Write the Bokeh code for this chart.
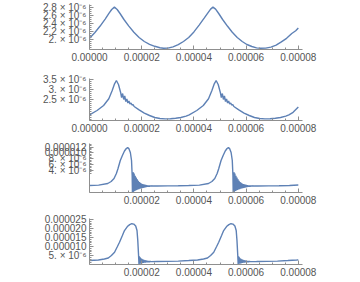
from bokeh.plotting import figure
from bokeh.layouts import column
from bokeh.models import FixedTicker, Range1d
from bokeh.embed import file_html
from bokeh.resources import INLINE

# time in microseconds (x 1e-6 s), values in units of 1e-6

# ---- panel 1 ----
t1 = [0, 2, 4, 6, 7.5, 8.5, 9.55, 10.6, 11.7, 13.2, 15, 17, 19, 21, 23, 25, 27, 28.4,
      30, 32, 34, 36, 38, 40, 42, 44, 45.5, 46.4, 47.3, 48.3, 49.5, 51, 52.9, 54.7,
      56.6, 58.5, 60.3, 62.2, 64, 65.6, 67.5, 69.5, 71.5, 73.5, 75.5, 77.5, 79, 80]
v1 = [2.03, 2.17, 2.33, 2.51, 2.66, 2.75, 2.81, 2.75, 2.65, 2.50, 2.34, 2.18, 2.05, 1.95, 1.88, 1.83, 1.795, 1.78,
      1.785, 1.815, 1.87, 1.95, 2.05, 2.19, 2.36, 2.54, 2.68, 2.76, 2.81, 2.76, 2.65, 2.50, 2.33, 2.18,
      2.05, 1.95, 1.875, 1.825, 1.79, 1.78, 1.785, 1.81, 1.86, 1.94, 2.03, 2.15, 2.22, 2.29]

# ---- panel 2 ----
t2 = [0, 2.9, 5.4, 7.4, 8.7, 9.6, 10.3, 11.1, 11.9, 12.3, 12.7, 13.1, 13.5, 13.9, 14.3, 14.7,
      15.1, 15.5, 15.9, 16.3, 16.7, 17.1, 19, 21, 23, 25, 27, 29, 31, 33, 35, 37, 38.2,
      41.1, 43.6, 45.6, 46.9, 47.8, 48.5, 49.3, 50.1, 50.5, 50.9, 51.3, 51.7, 52.1, 52.5, 52.9,
      53.3, 53.7, 54.1, 54.5, 54.9, 55.3, 57.2, 59.2, 61.2, 63.2, 65.2, 67.2, 69.2, 71.2, 73.2,
      75.2, 76.4, 78, 80]
v2 = [1.735, 1.95, 2.2, 2.535, 2.95, 3.285, 3.45, 3.25, 2.865, 2.6, 2.8, 2.5, 2.675, 2.4, 2.525, 2.325,
      2.425, 2.275, 2.325, 2.225, 2.24, 2.15, 1.98, 1.82, 1.7, 1.6, 1.55, 1.53, 1.535, 1.56, 1.6, 1.67, 1.735,
      1.95, 2.2, 2.535, 2.95, 3.285, 3.45, 3.25, 2.865, 2.6, 2.8, 2.5, 2.675, 2.4, 2.525, 2.325,
      2.425, 2.275, 2.325, 2.225, 2.24, 2.15, 1.98, 1.82, 1.7, 1.6, 1.55, 1.53, 1.535, 1.56, 1.6,
      1.67, 1.735, 1.86, 2.12]

# ---- panel 3 ----
t3 = [0, 3.5, 7, 8.3, 9.4, 10.3, 10.9, 11.8, 12.6, 13.4, 14.1, 14.6, 15.1, 15.65, 16.1, 16.35, 16.45, 16.7,
      16.8, 16.9, 17.1, 17.3, 17.5, 17.7, 17.9, 18.1, 18.3, 18.5, 18.7, 18.9, 19.1, 19.3, 19.5, 19.7, 19.9,
      20.1, 20.3, 20.5, 20.7, 20.9, 21.1, 21.3, 21.5, 21.7, 21.9, 22.1, 22.3, 22.5, 22.7, 22.9, 23.1, 23.3,
      23.5, 23.7, 23.9, 24.1, 24.3, 24.5, 26, 30, 34, 38,
      42.1, 45.6, 46.9, 48, 48.9, 49.5, 50.4, 51.2, 52, 52.7, 53.2, 53.7, 54.25, 54.7, 54.95, 55.05, 55.3,
      55.4, 55.5, 55.7, 55.9, 56.1, 56.3, 56.5, 56.7, 56.9, 57.1, 57.3, 57.5, 57.7, 57.9, 58.1, 58.3, 58.5,
      58.7, 58.9, 59.1, 59.3, 59.5, 59.7, 59.9, 60.1, 60.3, 60.5, 60.7, 60.9, 61.1, 61.3, 61.5, 61.7, 61.9,
      62.1, 62.3, 62.5, 62.7, 62.9, 63.1, 64.6, 68.6, 72.6, 76.6, 80]
v3 = [-1.11, -1.0, -0.43, 0.25, 1.27, 2.98, 4.58, 7.41, 9.12, 10.65, 11.5, 11.78, 11.44, 10.14, 7.41, 2.3, -3.4, -3.33,
      3.42, -3.2, 3.0, -3.0, 2.2, -2.8, 1.6, -2.6, 1.0, -2.5, 0.5, -2.35, 0.1, -2.2, -0.2, -2.1, -0.45,
      -2.0, -0.6, -1.9, -0.75, -1.8, -0.85, -1.72, -0.95, -1.65, -1.02, -1.58, -1.08, -1.52, -1.12, -1.47, -1.16, -1.43,
      -1.19, -1.39, -1.22, -1.35, -1.24, -1.3, -1.28, -1.25, -1.2, -1.12,
      -1.0, -0.43, 0.25, 1.27, 2.98, 4.58, 7.41, 9.12, 10.65, 11.5, 11.78, 11.44, 10.14, 7.41, 2.3, -3.4, -3.33,
      3.42, -3.2, 3.0, -3.0, 2.2, -2.8, 1.6, -2.6, 1.0, -2.5, 0.5, -2.35, 0.1, -2.2, -0.2, -2.1, -0.45,
      -2.0, -0.6, -1.9, -0.75, -1.8, -0.85, -1.72, -0.95, -1.65, -1.02, -1.58, -1.08, -1.52, -1.12, -1.47, -1.16, -1.43,
      -1.19, -1.39, -1.22, -1.35, -1.24, -1.3, -1.28, -1.25, -1.2, -1.12, -0.95]

# ---- panel 4 ----
t4 = [0, 3.4, 5.7, 7.2, 8.4, 9.6, 10.7, 11.5, 12.6, 13.4, 14.5, 15.4, 16.2, 16.95, 17.7, 18.2, 18.5, 18.8,
      18.95, 19.1, 19.25, 19.4, 19.55, 19.7, 19.85, 20.0, 20.2, 20.4, 20.6, 20.8, 21.0, 21.2, 21.4, 21.6,
      21.8, 22.0, 22.2, 22.4, 22.6, 22.8, 23.0, 23.3, 23.6, 26, 30, 34, 38,
      41.4, 43.7, 45.2, 46.4, 47.6, 48.7, 49.5, 50.6, 51.4, 52.5, 53.4, 54.2, 54.95, 55.7, 56.2, 56.5, 56.8,
      56.95, 57.1, 57.25, 57.4, 57.55, 57.7, 57.85, 58.0, 58.2, 58.4, 58.6, 58.8, 59.0, 59.2, 59.4, 59.6,
      59.8, 60.0, 60.2, 60.4, 60.6, 60.8, 61.0, 61.3, 61.6, 64, 68, 72, 76, 79.4, 80]
v4 = [2.2, 2.5, 3.05, 3.6, 5.0, 6.8, 10.0, 12.4, 16.1, 18.9, 21.1, 22.2, 22.7, 22.5, 21.4, 18.9, 13.3, 5.0,
      0.3, 4.6, 0.4, 4.0, 0.5, 3.5, 0.6, 3.1, 0.7, 2.8, 0.85, 2.55, 1.0, 2.35, 1.1, 2.2,
      1.2, 2.05, 1.3, 1.95, 1.38, 1.85, 1.45, 1.78, 1.6, 1.65, 1.75, 1.9, 2.2,
      2.5, 3.05, 3.6, 5.0, 6.8, 10.0, 12.4, 16.1, 18.9, 21.1, 22.2, 22.7, 22.5, 21.4, 18.9, 13.3, 5.0,
      0.3, 4.6, 0.4, 4.0, 0.5, 3.5, 0.6, 3.1, 0.7, 2.8, 0.85, 2.55, 1.0, 2.35, 1.1, 2.2,
      1.2, 2.05, 1.3, 1.95, 1.38, 1.85, 1.45, 1.78, 1.6, 1.65, 1.75, 1.9, 2.2, 2.5, 2.6]

# ---- ticks & labels ----
x_major = [0, 20, 40, 60, 80]
x_minor = [5, 10, 15, 25, 30, 35, 45, 50, 55, 65, 70, 75]
x_labels = ["0.00000", "0.00002", "0.00004", "0.00006", "0.00008"]

y1_major = [2.0, 2.2, 2.4, 2.6, 2.8]
y1_labels = ["2. × 10⁻⁶", "2.2 × 10⁻⁶", "2.4 × 10⁻⁶", "2.6 × 10⁻⁶", "2.8 × 10⁻⁶"]
y1_minor = [1.8, 1.85, 1.9, 1.95, 2.05, 2.1, 2.15, 2.25, 2.3, 2.35, 2.45, 2.5, 2.55, 2.65, 2.7, 2.75, 2.85]

y2_major = [2.5, 3.0, 3.5]
y2_labels = ["2.5 × 10⁻⁶", "3. × 10⁻⁶", "3.5 × 10⁻⁶"]
y2_minor = [1.5, 1.6, 1.7, 1.8, 1.9, 2.0, 2.1, 2.2, 2.3, 2.4, 2.6, 2.7, 2.8, 2.9, 3.1, 3.2, 3.3, 3.4]

y3_major = [4, 6, 8, 10, 12]
y3_labels = ["4. × 10⁻⁶", "6. × 10⁻⁶", "8. × 10⁻⁶", "0.000010", "0.000012"]
y3_minor = [3, 3.5, 4.5, 5, 5.5, 6.5, 7, 7.5, 8.5, 9, 9.5, 10.5, 11, 11.5, 12.5, 13]

y4_major = [5, 10, 15, 20, 25]
y4_labels = ["5. × 10⁻⁶", "0.000010", "0.000015", "0.000020", "0.000025"]
y4_minor = [1, 2, 3, 4, 6, 7, 8, 9, 11, 12, 13, 14, 16, 17, 18, 19, 21, 22, 23, 24]

LINE = "#5E81B5"
AXIS = "#8f8f8f"
LABEL = "#555555"


def panel(t, v, height, left, right, top, bottom, x_end, y_start, y_end,
          yt, ymin, ylab, show_x0=True):
    p = figure(width=360, height=height, output_backend="svg", toolbar_location=None,
               x_range=Range1d(0, x_end), y_range=Range1d(y_start, y_end),
               min_border_left=left, min_border_right=right,
               min_border_top=top, min_border_bottom=bottom)
    p.line(t, v, line_color=LINE, line_width=1.4)
    p.xgrid.visible = False
    p.ygrid.visible = False
    p.outline_line_color = None
    p.background_fill_color = "white"
    p.border_fill_color = "white"
    p.xaxis.ticker = FixedTicker(ticks=x_major, minor_ticks=x_minor)
    ov = {k: lab for k, lab in zip(x_major, x_labels)}
    if not show_x0:
        ov[0] = ""
    p.xaxis.major_label_overrides = ov
    p.yaxis.ticker = FixedTicker(ticks=yt, minor_ticks=ymin)
    p.yaxis.major_label_overrides = {k: lab for k, lab in zip(yt, ylab)}
    for ax in (p.xaxis[0], p.yaxis[0]):
        ax.axis_line_color = AXIS
        ax.major_tick_line_color = AXIS
        ax.minor_tick_line_color = AXIS
        ax.major_tick_in = 4
        ax.major_tick_out = 0
        ax.minor_tick_in = 2
        ax.minor_tick_out = 0
        ax.major_label_text_font = "Liberation Sans"
        ax.major_label_text_font_size = "10px"
        ax.major_label_text_color = LABEL
        ax.major_label_standoff = 3
    return p


p1 = panel(t1, v1, 68, 87, 54, 4, 19, 81.6, 1.75, 2.875, y1_major, y1_minor, y1_labels)
p2 = panel(t2, v2, 70, 89, 58, 10, 18, 81.6, 1.45, 3.55, y2_major, y2_minor, y2_labels)
p3 = panel(t3, v3, 70, 77, 48, 5, 16, 81.6, -3.5, 13.2, y3_major, y3_minor, y3_labels, show_x0=False)
p4 = panel(t4, v4, 74, 88, 58, 10, 18, 81.6, 0, 25.6, y4_major, y4_minor, y4_labels, show_x0=False)

layout = column(p1, p2, p3, p4, spacing=0)
open("out.html", "w").write(file_html(layout, INLINE))
